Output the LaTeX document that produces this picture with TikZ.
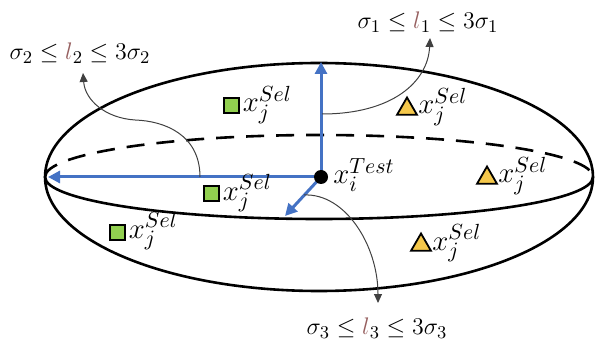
\documentclass[tikz,border=0pt]{standalone}
\usetikzlibrary{arrows.meta,shapes.geometric}
\definecolor{bl}{RGB}{68,114,196}
\definecolor{lc}{RGB}{150,95,95}
\definecolor{gr}{RGB}{146,208,80}
\definecolor{ye}{RGB}{245,200,75}
\begin{document}
\begin{tikzpicture}[x=0.5pt,y=-0.5pt,
 sq/.style={draw=black,fill=gr,line width=1pt,minimum size=7.5pt,inner sep=0pt},
 tri/.style={regular polygon,regular polygon sides=3,draw=black,fill=ye,line width=0.9pt,minimum size=11.5pt,inner sep=0pt},
 lab/.style={font=\fontsize{15.5}{18}\selectfont,inner sep=0pt,anchor=base west},
 eq/.style={font=\fontsize{13}{15}\selectfont,inner sep=0pt},
 axis/.style={bl,line width=1.5pt,-{Triangle[length=6pt,width=6pt]}},
 thinarr/.style={black!75,line width=0.5pt,-{Triangle[length=4.5pt,width=4pt]}}]
\useasboundingbox (0,0) rectangle (597,341);
% ellipsoid
\coordinate (L) at (45,177);
\draw[line width=1.3pt] (319,177) ellipse [x radius=274, y radius=114];
\draw[line width=1.3pt,dash pattern=on 9pt off 6pt] (L) arc[start angle=180,end angle=360,x radius=274,y radius=42];
\draw[line width=1.3pt] (L) arc[start angle=180,end angle=0,x radius=274,y radius=42];
% axes
\coordinate (c) at (321,177);
\coordinate (t1) at (321,62);
\coordinate (t2) at (48,177);
\coordinate (t3) at (285,216);
\draw[axis] (c) -- (t1);
\draw[axis] (c) -- (t2);
\draw[axis] (c) -- (t3);
\node[circle,fill=black,minimum size=7pt,inner sep=0pt] (O) at (c) {};
\node[lab] (Ol) at (333,184) {$x_i^{Test}$};
% equations
\node[eq] (e2) at (80,53) {$\sigma_2 \le {\color{lc}l}_2 \le 3\sigma_2$};
\node[eq] (e1) at (428,22) {$\sigma_1 \le {\color{lc}l}_1 \le 3\sigma_1$};
\node[eq] (e3) at (377,328) {$\sigma_3 \le {\color{lc}l}_3 \le 3\sigma_3$};
% thin arrows
\coordinate (s1) at (322,114);
\coordinate (a1) at (430,38);
\coordinate (s2) at (200,177);
\coordinate (m2) at (135,120);
\coordinate (a2) at (83,73);
\coordinate (s3) at (304,195);
\coordinate (a3) at (378,303);
\draw[thinarr] (s1) .. controls (392,114) and (428,82) .. (a1);
\draw[thinarr] (s2) .. controls (200,135) and (165,121) .. (m2) .. controls (105,118) and (85,100) .. (a2);
\draw[thinarr] (s3) .. controls (345,193) and (378,245) .. (a3);
% markers
\node[sq] (g1) at (231,106) {};
\node[lab] (g1l) at ([xshift=1.5pt,yshift=-3pt]g1.east) {$x_j^{Sel}$};
\node[sq] (g2) at (211,194) {};
\node[lab] (g2l) at ([xshift=1.5pt,yshift=-3pt]g2.east) {$x_j^{Sel}$};
\node[sq] (g3) at (117,232) {};
\node[lab] (g3l) at ([xshift=1.5pt,yshift=-3pt]g3.east) {$x_j^{Sel}$};
\node[tri] (y1) at (407,109) {};
\node[lab] (y1l) at (418,114) {$x_j^{Sel}$};
\node[tri] (y2) at (487,178) {};
\node[lab] (y2l) at (498,183) {$x_j^{Sel}$};
\node[tri] (y3) at (421,245) {};
\node[lab] (y3l) at (432,250) {$x_j^{Sel}$};
\end{tikzpicture}
\end{document}
